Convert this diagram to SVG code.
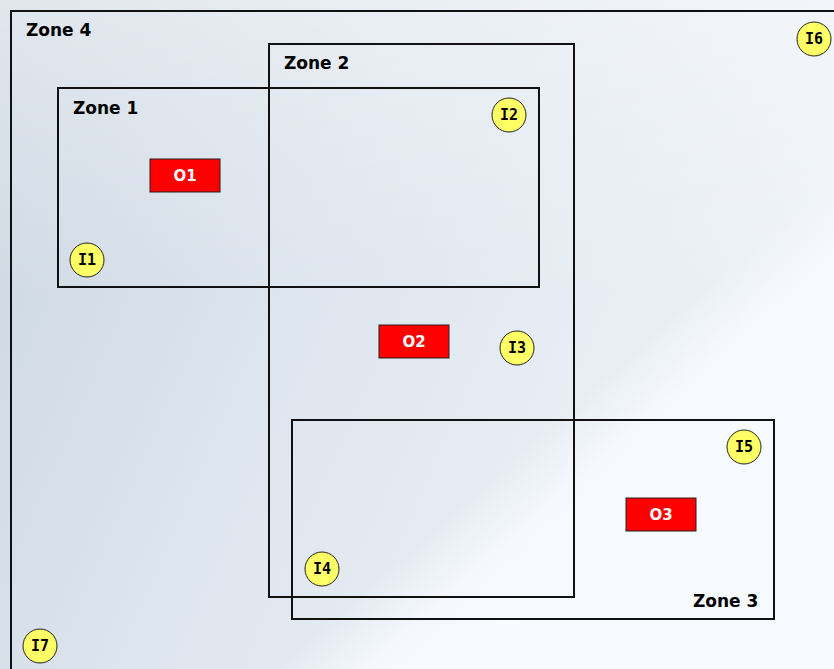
<svg xmlns="http://www.w3.org/2000/svg" width="834" height="669" viewBox="0 0 834 669">
  <defs>
    <linearGradient id="bgBase" x1="0" y1="0" x2="1" y2="0.35">
      <stop offset="0" stop-color="#cbd6e1"/>
      <stop offset="0.45" stop-color="#dde5ee"/>
      <stop offset="1" stop-color="#eef2f8"/>
    </linearGradient>
    <linearGradient id="bgSheen" gradientUnits="userSpaceOnUse" x1="500" y1="470" x2="580" y2="560">
      <stop offset="0" stop-color="#f7faff" stop-opacity="0"/>
      <stop offset="0.5" stop-color="#f7faff" stop-opacity="0.85"/>
      <stop offset="1" stop-color="#f7faff" stop-opacity="1"/>
    </linearGradient>
    <linearGradient id="bgTop" x1="0" y1="0" x2="0" y2="1">
      <stop offset="0" stop-color="#ffffff" stop-opacity="0.4"/>
      <stop offset="1" stop-color="#ffffff" stop-opacity="0"/>
    </linearGradient>
    <style>
      .zone { fill: none; stroke: #111; stroke-width: 2; }
      .zlabel { font-family: "DejaVu Sans", "Liberation Sans", sans-serif; font-weight: bold; font-size: 17px; fill: #000; }
      .obj rect { fill: #ff0000; stroke: #222; stroke-width: 1; }
      .obj text { font-family: "DejaVu Sans", "Liberation Sans", sans-serif; font-weight: bold; font-size: 15px; fill: #fff; text-anchor: middle; }
      .item circle { fill: #ffff66; stroke: #222; stroke-width: 1; }
      .item text { font-family: "DejaVu Sans Mono", "Liberation Mono", monospace; font-weight: bold; font-size: 15px; fill: #000; text-anchor: middle; }
    </style>
  </defs>

  <!-- backdrop -->
  <rect x="0" y="0" width="834" height="669" fill="url(#bgBase)"/>
  <rect x="0" y="0" width="834" height="300" fill="url(#bgTop)"/>
  <polygon points="280,669 834,140 834,669" fill="url(#bgSheen)"/>

  <!-- zones -->
  <g id="zone4">
    <polyline class="zone" points="11,670 11,11 835,11"/>
    <text class="zlabel" x="26" y="36">Zone 4</text>
  </g>
  <g id="zone2">
    <rect class="zone" x="269" y="44" width="305" height="553"/>
    <text class="zlabel" x="284" y="69">Zone 2</text>
  </g>
  <g id="zone1">
    <rect class="zone" x="58" y="88" width="481" height="199"/>
    <text class="zlabel" x="73" y="114">Zone 1</text>
  </g>
  <g id="zone3">
    <rect class="zone" x="292" y="420" width="482" height="199"/>
    <text class="zlabel" x="693" y="607">Zone 3</text>
  </g>

  <!-- objects -->
  <g id="O1" class="obj">
    <rect x="150" y="159" width="70" height="33"/>
    <text x="185" y="181">O1</text>
  </g>
  <g id="O2" class="obj">
    <rect x="379" y="325" width="70" height="33"/>
    <text x="414" y="347">O2</text>
  </g>
  <g id="O3" class="obj">
    <rect x="626" y="498" width="70" height="33"/>
    <text x="661" y="520">O3</text>
  </g>

  <!-- items -->
  <g id="I1" class="item">
    <circle cx="87" cy="260" r="17"/>
    <text x="87" y="265">I1</text>
  </g>
  <g id="I2" class="item">
    <circle cx="509" cy="115" r="17"/>
    <text x="509" y="120">I2</text>
  </g>
  <g id="I3" class="item">
    <circle cx="517" cy="348" r="17"/>
    <text x="517" y="353">I3</text>
  </g>
  <g id="I4" class="item">
    <circle cx="322" cy="569" r="17"/>
    <text x="322" y="574">I4</text>
  </g>
  <g id="I5" class="item">
    <circle cx="744" cy="447" r="17"/>
    <text x="744" y="452">I5</text>
  </g>
  <g id="I6" class="item">
    <circle cx="814" cy="39" r="17"/>
    <text x="814" y="44">I6</text>
  </g>
  <g id="I7" class="item">
    <circle cx="40" cy="646" r="17"/>
    <text x="40" y="651">I7</text>
  </g>

  <!-- no connectors in this layout -->
  <g id="connectors"/>
</svg>
